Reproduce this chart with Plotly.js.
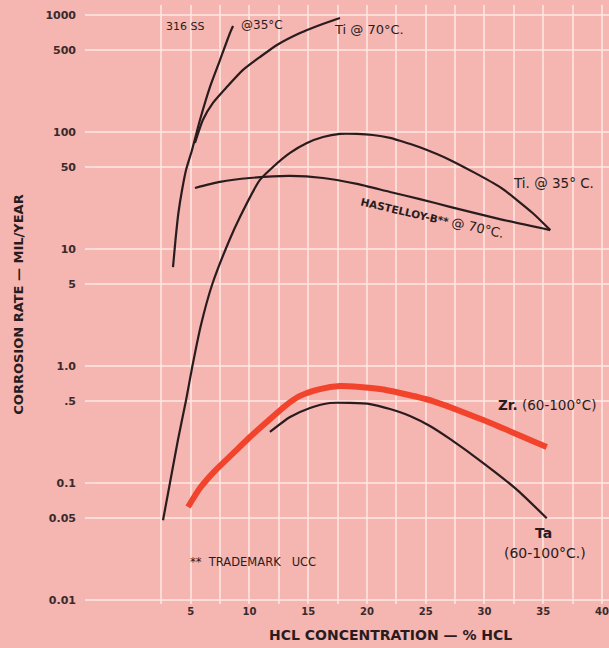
<!DOCTYPE html>
<html>
<head>
<meta charset="utf-8">
<script src="https://cdn.plot.ly/plotly-3.0.1.min.js"></script>
<style>html,body{margin:0;padding:0;background:#f5b5b0;}</style>
</head>
<body>
<div id="chart" style="width:609px;height:648px;"></div>
<script>
// HCl concentration (%) and corrosion rate (mil/year)
var ss316_x = [3.49, 3.7, 3.95, 4.26, 4.6, 5.11, 5.79, 6.64, 7.49, 8.34, 8.6];
var ss316_y = [7.0, 11.9, 20.3, 31.9, 47.3, 70.2, 127, 243, 412, 701, 805];

var ti70_x = [5.36, 6.04, 6.89, 8.09, 9.45, 10.89, 12.34, 14.3, 16.0, 17.7];
var ti70_y = [80.5, 127, 177, 243, 339, 437, 554, 701, 822, 943];

var ti35_x = [2.64, 3.23, 3.91, 4.6, 5.11, 5.87, 6.81, 8.26, 9.19, 10.89, 12.0, 13.45, 14.89, 16.26, 17.7, 19.15, 20.5, 21.96, 23.4, 24.5, 27.06, 31.3, 34.1, 35.6];
var ti35_y = [0.048, 0.1, 0.233, 0.51, 0.96, 2.24, 4.92, 11.7, 18.8, 38.9, 50.2, 66.2, 80.5, 90.6, 96.2, 96.2, 94.2, 88.9, 80.5, 74, 57.7, 33.9, 20.3, 14.5];

var hast_x = [5.36, 7.49, 10.04, 13.45, 16.26, 19.15, 21.96, 24.5, 27.06, 31.3, 35.6];
var hast_y = [33.2, 37.4, 40.4, 42.1, 40.4, 36.0, 30.7, 26.7, 22.9, 18.0, 14.5];

var zr_x = [4.77, 5.79, 7.06, 8.6, 10.04, 11.57, 13.02, 14.3, 16.0, 17.7, 19.4, 21.1, 22.8, 25.6, 29.9, 35.3];
var zr_y = [0.0624, 0.0906, 0.127, 0.179, 0.247, 0.339, 0.455, 0.555, 0.635, 0.675, 0.662, 0.635, 0.588, 0.502, 0.345, 0.203];

var ta_x = [11.74, 13.45, 15.15, 16.85, 18.55, 20.26, 21.96, 23.66, 25.36, 27.06, 29.9, 32.8, 35.3];
var ta_y = [0.273, 0.366, 0.438, 0.483, 0.483, 0.473, 0.429, 0.374, 0.307, 0.238, 0.148, 0.087, 0.05];

var xTickVals = [2.5, 5, 7.5, 10, 12.5, 15, 17.5, 20, 22.5, 25, 27.5, 30, 32.5, 35, 37.5, 40];
var xTickText = ["", "5", "", "10", "", "15", "", "20", "", "25", "", "30", "", "35", "", "40"];
var yTickVals = [0.01, 0.05, 0.1, 0.5, 1, 5, 10, 50, 100, 500, 1000];
var yTickText = ["0.01", "0.05", "0.1", ".5", "1.0", "5", "10", "50", "100", "500", "1000"];

var ink = '#2a1c1e';
var fontFam = '"DejaVu Sans", sans-serif';

function line(x, y, color, width) {
  return {x: x, y: y, type: 'scatter', mode: 'lines',
    line: {color: color, width: width, shape: 'spline', smoothing: 0.6},
    hoverinfo: 'skip', showlegend: false};
}

var data = [
  line(ss316_x, ss316_y, ink, 2.2),
  line(ti70_x, ti70_y, ink, 2.2),
  line(ti35_x, ti35_y, ink, 2.2),
  line(hast_x, hast_y, ink, 2.2),
  line(ta_x, ta_y, ink, 2.2),
  line(zr_x, zr_y, '#f2442c', 6)
];

function ann(text, x, y, size, extra) {
  var a = {text: text, x: x, y: y, xref: 'x', yref: 'y', showarrow: false,
    font: {family: fontFam, size: size, color: ink}};
  if (extra) for (var k in extra) a[k] = extra[k];
  return a;
}

var annotations = [
  ann('316 SS', 4.5, Math.log10(790), 11),
  ann('@35°C', 11.1, Math.log10(820), 12),
  ann('Ti @ 70°C.', 20.2, Math.log10(745), 13),
  ann('Ti. @ 35° C.', 35.9, Math.log10(36.6), 13.5),
  ann('<b>HASTELLOY-B**</b> <span style="font-size:13px">@ 70°C.</span>', 25.6, Math.log10(18.4), 10.5, {textangle: 13}),
  ann('<b>Zr.</b> (60-100°C)', 35.3, Math.log10(0.465), 13.5),
  ann('<b>Ta</b>', 35.0, Math.log10(0.0374), 14),
  ann('(60-100°C.)', 35.15, Math.log10(0.0252), 14),
  ann('**  TRADEMARK   UCC', 10.3, Math.log10(0.0211), 11.5),
  {text: '<b>HCL CONCENTRATION — % HCL</b>', xref: 'paper', yref: 'paper',
   x: (390 - 85) / 524, y: -0.052, showarrow: false, xanchor: 'center', yanchor: 'middle',
   font: {family: fontFam, size: 14, color: ink}}
];

var layout = {
  width: 609, height: 648,
  margin: {l: 85, r: 0, t: 5, b: 44},
  paper_bgcolor: '#f5b5b0',
  plot_bgcolor: '#f5b5b0',
  font: {family: fontFam, color: ink},
  xaxis: {
    range: [-4.0, 40.6],
    tickvals: xTickVals, ticktext: xTickText,
    showgrid: true, gridcolor: 'rgba(255,230,226,0.8)', gridwidth: 2,
    zeroline: false, showline: false, ticks: '',
    tickfont: {size: 10, color: '#3a2a2c', weight: 'bold'}
  },
  yaxis: {
    type: 'log',
    range: [-2.034, 3.085],
    tickvals: yTickVals, ticktext: yTickText,
    showgrid: true, gridcolor: 'rgba(255,230,226,0.8)', gridwidth: 2,
    zeroline: false, showline: false, ticks: '',
    ticklabelstandoff: 8,
    tickfont: {size: 11, color: '#3a2a2c', weight: 'bold'},
    title: {text: 'CORROSION RATE — MIL/YEAR', standoff: 18,
      font: {size: 13, color: ink, weight: 'bold'}}
  },
  annotations: annotations
};

Plotly.newPlot('chart', data, layout, {staticPlot: true, displayModeBar: false});
</script>
</body>
</html>
